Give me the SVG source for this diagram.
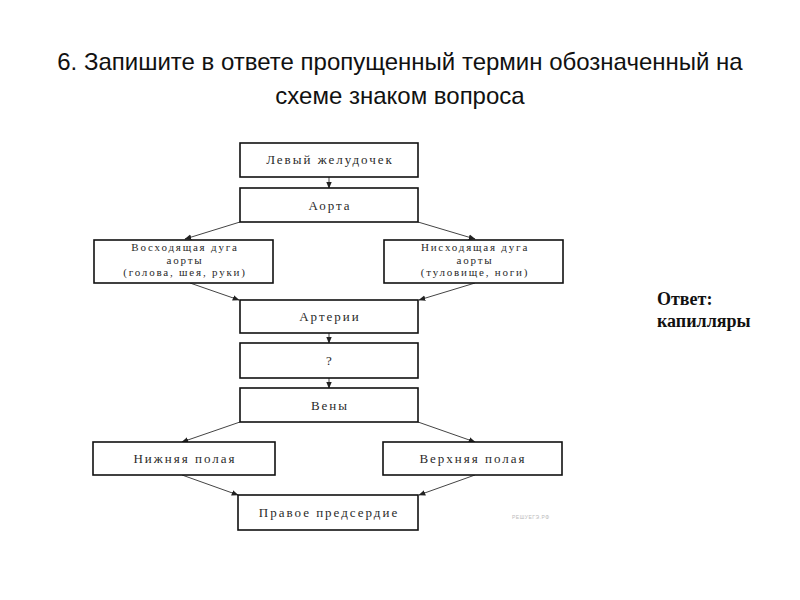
<svg xmlns="http://www.w3.org/2000/svg" width="800" height="600" viewBox="0 0 800 600">
<style>
.box{fill:#fff;stroke:#111;stroke-width:1.6}
.lbl{font-family:"Liberation Serif",serif;font-size:13px;fill:#2a2a2a;letter-spacing:2px;text-anchor:middle}
.sm{font-size:11px;letter-spacing:1.8px}
.con{stroke:#444;stroke-width:1;fill:none;marker-end:url(#ah)}
.title{font-family:"Liberation Sans",Arial,sans-serif;font-size:24px;fill:#111;text-anchor:middle}
.ans{font-family:"Liberation Serif",serif;font-size:18px;font-weight:bold;fill:#111}
</style>
<defs>
<marker id="ah" viewBox="0 0 10 10" refX="9" refY="5" markerWidth="7" markerHeight="7" orient="auto" markerUnits="userSpaceOnUse">
<path d="M0,1 L10,5 L0,9 z" fill="#222"/>
</marker>
</defs>
<rect width="800" height="600" fill="#fff"/>
<text class="title" x="400" y="70">6. Запишите в ответе пропущенный термин обозначенный на</text>
<text class="title" x="400" y="104">схеме знаком вопроса</text>

<g id="connectors">
<line class="con" x1="329" y1="177" x2="329" y2="188"/>
<line class="con" x1="240" y1="222" x2="185" y2="239"/>
<line class="con" x1="418" y1="222" x2="475" y2="239"/>
<line class="con" x1="190" y1="283" x2="239" y2="300"/>
<line class="con" x1="475" y1="283" x2="419" y2="300"/>
<line class="con" x1="329" y1="333" x2="329" y2="343"/>
<line class="con" x1="329" y1="378" x2="329" y2="388"/>
<line class="con" x1="240" y1="422" x2="182" y2="442"/>
<line class="con" x1="418" y1="422" x2="475" y2="442"/>
<line class="con" x1="182" y1="475" x2="238" y2="495"/>
<line class="con" x1="475" y1="475" x2="419" y2="495"/>
</g>

<g id="n1"><rect class="box" x="240" y="143" width="178" height="34"/><text class="lbl" x="330" y="164">Левый желудочек</text></g>
<g id="n2"><rect class="box" x="240" y="188" width="178" height="34"/><text class="lbl" x="330" y="210">Аорта</text></g>
<g id="n3"><rect class="box" x="94" y="240" width="179" height="43"/><text class="lbl sm" x="185" y="251">Восходящая дуга</text><text class="lbl sm" x="185" y="263.5">аорты</text><text class="lbl sm" x="185" y="276">(голова, шея, руки)</text></g>
<g id="n4"><rect class="box" x="384" y="240" width="179" height="43"/><text class="lbl sm" x="475" y="251">Нисходящая дуга</text><text class="lbl sm" x="475" y="263.5">аорты</text><text class="lbl sm" x="475" y="276">(туловище, ноги)</text></g>
<g id="n5"><rect class="box" x="240" y="300" width="178" height="33"/><text class="lbl" x="330" y="321">Артерии</text></g>
<g id="n6"><rect class="box" x="240" y="343" width="178" height="35"/><text class="lbl" x="330" y="365">?</text></g>
<g id="n7"><rect class="box" x="240" y="388" width="178" height="34"/><text class="lbl" x="330" y="410">Вены</text></g>
<g id="n8"><rect class="box" x="93" y="442" width="182" height="33"/><text class="lbl" x="185" y="463">Нижняя полая</text></g>
<g id="n9"><rect class="box" x="383" y="442" width="179" height="33"/><text class="lbl" x="473" y="463">Верхняя полая</text></g>
<g id="n10"><rect class="box" x="238" y="495" width="180" height="35"/><text class="lbl" x="329" y="517">Правое предсердие</text></g>

<text x="512" y="519" font-family="Liberation Sans,sans-serif" font-size="5" fill="#bbb" letter-spacing="0.5">РЕШУЕГЭ.РФ</text>
<text class="ans" x="657" y="305">Ответ:</text>
<text class="ans" x="657" y="327">капилляры</text>
</svg>
